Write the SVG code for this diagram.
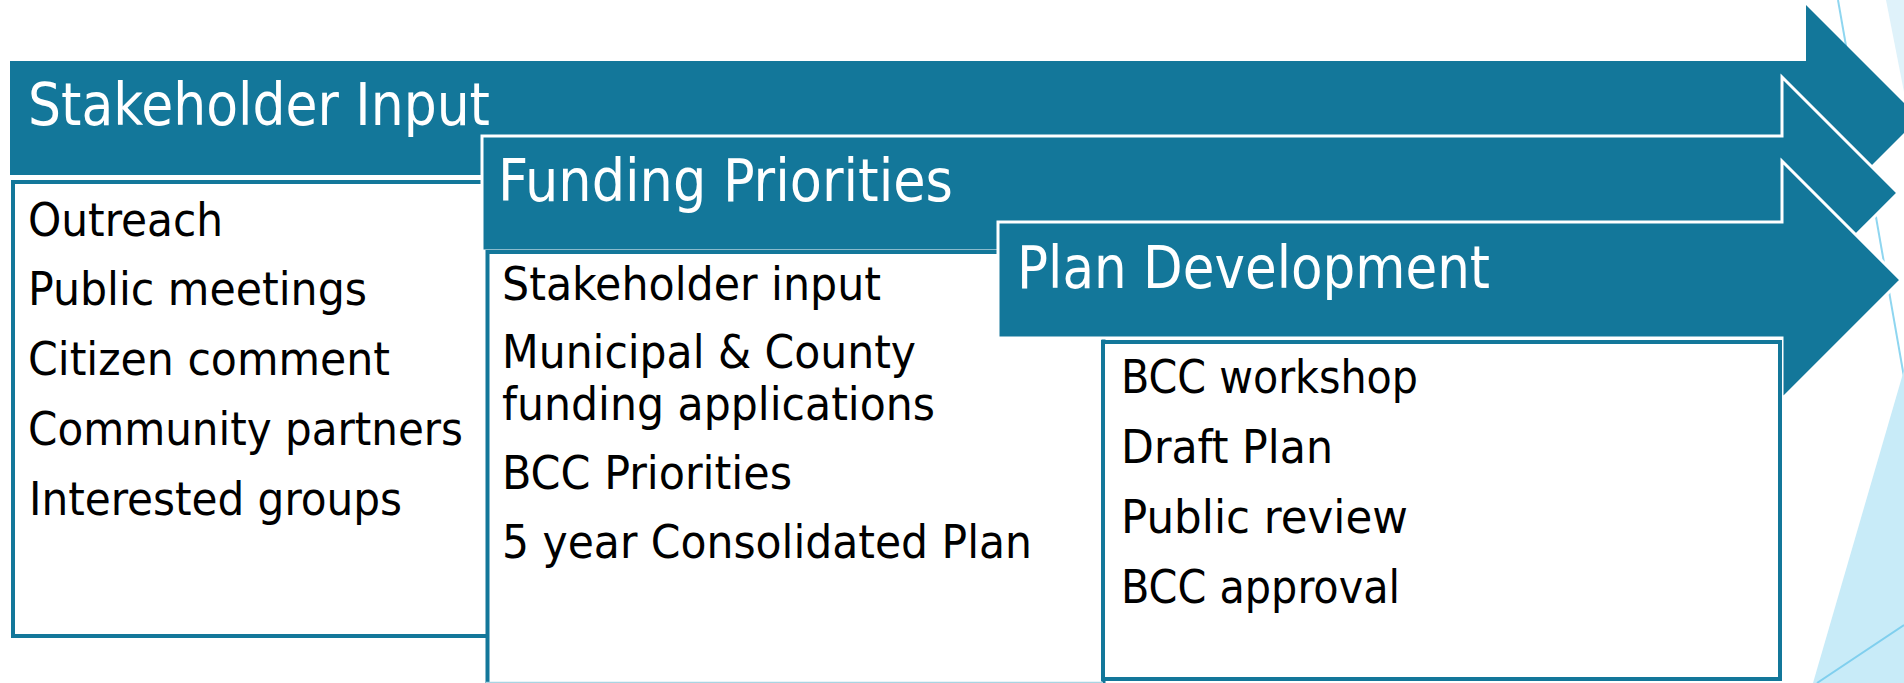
<svg xmlns="http://www.w3.org/2000/svg" width="1904" height="683" viewBox="0 0 1904 683">
  <style>
    .arrow { fill: #13779a; }
    .arrow-out { fill: #13779a; stroke: #ffffff; stroke-width: 3; stroke-linejoin: miter; }
    .box { fill: #ffffff; stroke: #13779a; stroke-width: 4; }
    .title { font-family: 'DejaVu Sans Condensed', 'DejaVu Sans', 'Liberation Sans', sans-serif; font-stretch: condensed; font-size: 58px; fill: #ffffff; }
    .item { font-family: 'DejaVu Sans Condensed', 'DejaVu Sans', 'Liberation Sans', sans-serif; font-stretch: condensed; font-size: 47px; fill: #000000; }
  </style>
  <rect x="0" y="0" width="1904" height="683" fill="#ffffff"/>
  <g id="background">
    <polygon points="1886,0 1904,0 1904,92" fill="#dff2fa"/>
    <line x1="1838" y1="0" x2="1904" y2="377" stroke="#8fd6f0" stroke-width="2"/>
    <polygon points="1904,370 1813,683 1904,683" fill="#c8ebf8"/>
    <line x1="1904" y1="625" x2="1817" y2="683" stroke="#80cfee" stroke-width="2"/>
  </g>
  <g id="stakeholder-input">
    <polygon class="arrow" points="10,61 1806,61 1806,5 1919,118 1806,231 1806,175 10,175"/>
    <text class="title" x="28" y="125" textLength="462" lengthAdjust="spacingAndGlyphs">Stakeholder Input</text>
    <rect class="box" x="13" y="182" width="475" height="454"/>
    <text class="item" x="28" y="236" textLength="195" lengthAdjust="spacingAndGlyphs">Outreach</text>
    <text class="item" x="28" y="305" textLength="339" lengthAdjust="spacingAndGlyphs">Public meetings</text>
    <text class="item" x="28" y="375" textLength="362" lengthAdjust="spacingAndGlyphs">Citizen comment</text>
    <text class="item" x="28" y="445" textLength="435" lengthAdjust="spacingAndGlyphs">Community partners</text>
    <text class="item" x="29" y="515" textLength="373" lengthAdjust="spacingAndGlyphs">Interested groups</text>
  </g>
  <g id="funding-priorities">
    <polygon class="arrow-out" points="482,136 1782,136 1782,77 1898,193 1782,309 1782,251 482,251"/>
    <text class="title" x="498" y="201" textLength="455" lengthAdjust="spacingAndGlyphs">Funding Priorities</text>
    <rect class="box" x="487.5" y="252" width="616" height="436"/>
    <line x1="486" y1="682.5" x2="1103" y2="682.5" stroke="#a9d4e2" stroke-width="1.5"/>
    <text class="item" x="502" y="300" textLength="379" lengthAdjust="spacingAndGlyphs">Stakeholder input</text>
    <text class="item" x="502" y="368" textLength="414" lengthAdjust="spacingAndGlyphs">Municipal &amp; County</text>
    <text class="item" x="502" y="420" textLength="433" lengthAdjust="spacingAndGlyphs">funding applications</text>
    <text class="item" x="502" y="489" textLength="290" lengthAdjust="spacingAndGlyphs">BCC Priorities</text>
    <text class="item" x="502" y="558" textLength="530" lengthAdjust="spacingAndGlyphs">5 year Consolidated Plan</text>
  </g>
  <g id="plan-development">
    <polygon class="arrow-out" points="998,222 1782,222 1782,161 1901,280 1782,399 1782,338 998,338"/>
    <text class="title" x="1017" y="288" textLength="473" lengthAdjust="spacingAndGlyphs">Plan Development</text>
    <rect class="box" x="1103" y="342" width="677" height="337"/>
    <text class="item" x="1121" y="393" textLength="297" lengthAdjust="spacingAndGlyphs">BCC workshop</text>
    <text class="item" x="1121" y="463" textLength="212" lengthAdjust="spacingAndGlyphs">Draft Plan</text>
    <text class="item" x="1121" y="533" textLength="287" lengthAdjust="spacingAndGlyphs">Public review</text>
    <text class="item" x="1121" y="603" textLength="279" lengthAdjust="spacingAndGlyphs">BCC approval</text>
  </g>
</svg>
